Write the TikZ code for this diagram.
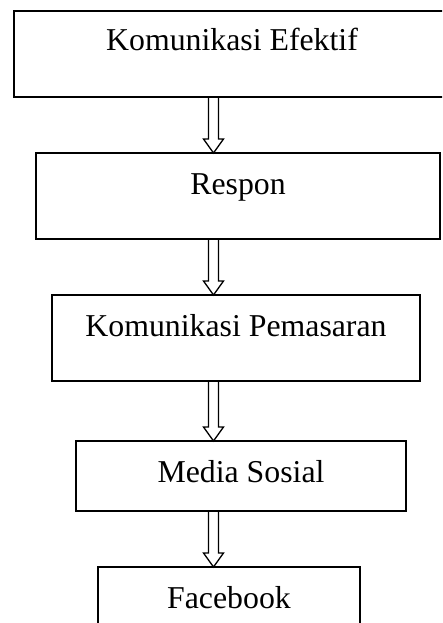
\documentclass[tikz,border=0pt]{standalone}
\usepackage{fontspec}
\setmainfont{Liberation Serif}
\usetikzlibrary{calc}
\newcommand{\hollowarrow}[2]{%
  \draw[harrow] ($(ax |- #1.south)+(-5,0)$) -- ($(ax |- #2.north)+(-5,-14)$) -- ++(-5,0)
    -- (ax |- #2.north) -- ++(10,-14) -- ++(-5,0) -- ($(ax |- #1.south)+(5,0)$);}
\begin{document}
\begin{tikzpicture}[x=1pt,y=-1pt,
  box/.style={draw, line width=1.8pt, inner sep=0pt, outer sep=0pt, anchor=north,
    font=\fontsize{31.8}{38}\selectfont},
  harrow/.style={draw, line width=1.3pt, line join=miter}]
\useasboundingbox (0,0) rectangle (442,623);
\clip (0,0) rectangle (442,623);
\coordinate (ax) at (213.5,0);
\node[box, minimum width=436pt, text height=40pt, text depth=46pt] (b1) at (232,11) {Komunikasi Efektif};
\node[box, minimum width=404pt, text height=41pt, text depth=45pt] (b2) at (238,153) {Respon};
\node[box, minimum width=368pt, text height=41pt, text depth=45pt] (b3) at (236,295) {Komunikasi Pemasaran};
\node[box, minimum width=330pt, text height=41pt, text depth=29pt] (b4) at (241,441) {Media Sosial};
\node[box, minimum width=262pt, text height=41pt, text depth=45pt] (b5) at (229,567) {Facebook};
\hollowarrow{b1}{b2}
\hollowarrow{b2}{b3}
\hollowarrow{b3}{b4}
\hollowarrow{b4}{b5}
\end{tikzpicture}
\end{document}
